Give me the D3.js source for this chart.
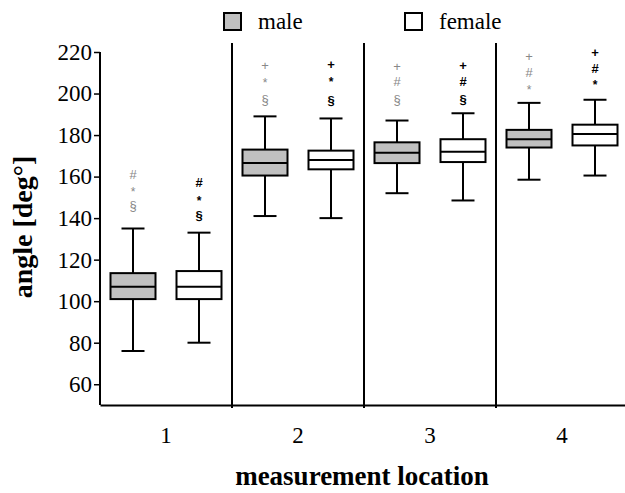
<!DOCTYPE html>
<html>
<head>
<meta charset="utf-8">
<script src="https://cdn.jsdelivr.net/npm/d3@7"></script>
<style>
  body { margin: 0; background: #fff; }
  svg { display: block; }
</style>
</head>
<body>
<svg width="625" height="493"></svg>
<script>
// categories
var locations = ['1', '2', '3', '4']
var sexes = ['male', 'female']

// box stats per location: [whiskerLow, q1, median, q3, whiskerHigh]
var maleStats = [
    [76, 101, 107, 113.5, 135],
    [141, 160.5, 166.5, 173, 189],
    [152, 166.5, 171.5, 176.5, 187],
    [158.5, 174, 178, 182.5, 195.5]
]
var femaleStats = [
    [80, 101, 107, 114.5, 133],
    [140, 163.5, 168, 172.5, 188],
    [148.5, 167, 172, 178, 190.5],
    [160.5, 175, 180.5, 185, 197]
]

// significance marks above each box (symbol, value where it sits)
var maleMarks = [
    [['#', 161], ['*', 155], ['§', 146]],
    [['+', 213.7], ['*', 207.3], ['§', 197.2]],
    [['+', 213.3], ['#', 205.7], ['§', 197.2]],
    [['+', 217.7], ['#', 210], ['*', 204]]
]
var femaleMarks = [
    [['#', 157], ['*', 150.6], ['§', 141.4]],
    [['+', 214.2], ['*', 207.8], ['§', 196.9]],
    [['+', 213.6], ['#', 205.7], ['§', 197.2]],
    [['+', 219.7], ['#', 212.1], ['*', 206.5]]
]

var yTicks = [60, 80, 100, 120, 140, 160, 180, 200, 220]

var svg = d3.select('svg')
var serif = '"Liberation Serif", "Times New Roman", serif'
var sans = '"Liberation Sans", Arial, sans-serif'

// plot edges (px)
var plotLeft = 100, plotRight = 628, plotTop = 52, plotBottom = 405

var x = d3.scaleBand().domain(locations).range([plotLeft, plotRight]).padding(0)
var xSex = d3.scalePoint().domain(sexes).range([0, x.bandwidth()]).padding(0.5)
var y = d3.scaleLinear().domain([50, 220]).range([plotBottom, plotTop])

var boxW = 45, capW = 23

// y axis
var yAxis = svg.append('g')
    .attr('transform', 'translate(' + plotLeft + ',0)')
    .call(d3.axisLeft(y).tickValues(yTicks).tickSize(6).tickSizeOuter(0).tickPadding(2))
yAxis.select('.domain').attr('stroke', '#000').attr('stroke-width', 2)
    .attr('d', 'M0,' + y(220) + 'V' + plotBottom)
yAxis.selectAll('.tick line').attr('stroke', '#000').attr('stroke-width', 1.5)
yAxis.selectAll('.tick text')
    .attr('font-family', serif).attr('font-size', 23).attr('fill', '#000')

// x axis
var xAxis = svg.append('g')
    .attr('transform', 'translate(0,' + plotBottom + ')')
    .call(d3.axisBottom(x).tickSize(0).tickPadding(22))
xAxis.select('.domain').attr('stroke', '#000').attr('stroke-width', 2)
xAxis.selectAll('.tick text')
    .attr('font-family', serif).attr('font-size', 23).attr('fill', '#000')

// dividers between locations
svg.append('g').selectAll('line')
    .data(locations.slice(1))
    .join('line')
    .attr('x1', function (d) { return x(d) })
    .attr('x2', function (d) { return x(d) })
    .attr('y1', 43)
    .attr('y2', plotBottom + 3)
    .attr('stroke', '#000')
    .attr('stroke-width', 2)

// boxes
var boxes = []
locations.forEach(function (loc, i) {
    boxes.push({ loc: loc, sex: 'male', s: maleStats[i], marks: maleMarks[i] })
    boxes.push({ loc: loc, sex: 'female', s: femaleStats[i], marks: femaleMarks[i] })
})

var g = svg.append('g').selectAll('g')
    .data(boxes)
    .join('g')
    .attr('transform', function (d) { return 'translate(' + (x(d.loc) + xSex(d.sex)) + ',0)' })

g.append('line')
    .attr('x1', 0).attr('x2', 0)
    .attr('y1', function (d) { return y(d.s[0]) })
    .attr('y2', function (d) { return y(d.s[4]) })
    .attr('stroke', '#000').attr('stroke-width', 2)
g.selectAll('line.cap')
    .data(function (d) { return [d.s[0], d.s[4]] })
    .join('line')
    .attr('class', 'cap')
    .attr('x1', -capW / 2).attr('x2', capW / 2)
    .attr('y1', function (v) { return y(v) })
    .attr('y2', function (v) { return y(v) })
    .attr('stroke', '#000').attr('stroke-width', 2)
g.append('rect')
    .attr('x', -boxW / 2)
    .attr('width', boxW)
    .attr('y', function (d) { return y(d.s[3]) })
    .attr('height', function (d) { return y(d.s[1]) - y(d.s[3]) })
    .attr('fill', function (d) { return d.sex === 'male' ? '#c0c0c0' : '#fff' })
    .attr('stroke', '#000').attr('stroke-width', 2)
g.append('line')
    .attr('x1', -boxW / 2).attr('x2', boxW / 2)
    .attr('y1', function (d) { return y(d.s[2]) })
    .attr('y2', function (d) { return y(d.s[2]) })
    .attr('stroke', '#000').attr('stroke-width', 2)

// significance marks
g.selectAll('text.mark')
    .data(function (d) { return d.marks.map(function (m) { return { sym: m[0], v: m[1], sex: d.sex } }) })
    .join('text')
    .attr('class', 'mark')
    .attr('x', 0)
    .attr('y', function (m) { return y(m.v) })
    .attr('dy', function (m) { return m.sym === '*' ? '0.75em' : '0.36em' })
    .attr('text-anchor', 'middle')
    .attr('font-family', sans)
    .attr('font-size', function (m) { return m.sym === '*' ? 12 : 13 })
    .attr('font-weight', function (m) { return m.sex === 'female' ? 'bold' : 'normal' })
    .attr('fill', function (m) { return m.sex === 'female' ? '#000' : '#888' })
    .text(function (m) { return m.sym })

// axis titles
svg.append('text')
    .attr('transform', 'translate(32,' + 227 + ') rotate(-90)')
    .attr('text-anchor', 'middle')
    .attr('font-family', serif).attr('font-size', 28).attr('font-weight', 'bold')
    .text('angle [deg°]')
svg.append('text')
    .attr('x', 362).attr('y', 485)
    .attr('text-anchor', 'middle')
    .attr('font-family', serif).attr('font-size', 27).attr('font-weight', 'bold')
    .text('measurement location')

// legend
var legend = svg.append('g').selectAll('g')
    .data(sexes)
    .join('g')
    .attr('transform', function (d, i) { return 'translate(' + (224 + i * 181) + ',13)' })
legend.append('rect')
    .attr('width', 17).attr('height', 17)
    .attr('fill', function (d) { return d === 'male' ? '#c0c0c0' : '#fff' })
    .attr('stroke', '#000').attr('stroke-width', 2)
legend.append('text')
    .attr('x', 34).attr('y', 16)
    .attr('font-family', serif).attr('font-size', 23)
    .text(function (d) { return d })
</script>
</body>
</html>
